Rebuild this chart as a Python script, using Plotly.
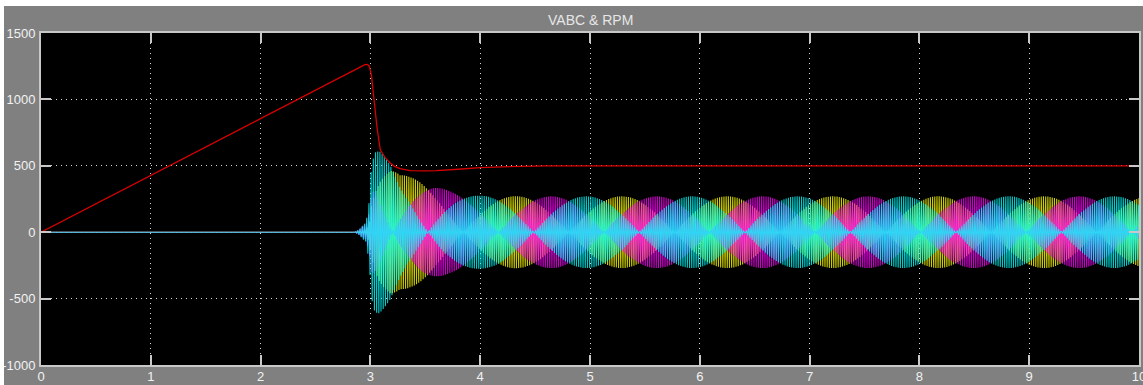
import numpy as np
import plotly.graph_objects as go

# ---- rotor speed (RPM) vs time ----
rpm_t = [0.0, 0.5, 1.0, 1.5, 2.0, 2.5, 2.8, 2.88, 2.92, 2.95, 2.97, 2.99,
         3.01, 3.03, 3.06, 3.09, 3.13, 3.18, 3.22, 3.27, 3.36, 3.5, 3.6,
         3.8, 4.0, 4.2, 4.4, 4.6, 6.0, 8.0, 10.0]
rpm_v = [0, 214, 429, 643, 858, 1072, 1200, 1234, 1252, 1262, 1264, 1252,
         1180, 1010, 790, 620, 565, 521, 496, 478, 463, 462, 463,
         474, 486, 492, 497, 500, 500, 500, 500]

# ---- three-phase stator voltage: amplitude envelope vs time ----
volt_env_t = [0.0, 2.86, 2.90, 2.93, 2.96, 2.99, 3.01, 3.04, 3.08, 3.18,
              3.27, 3.36, 3.45, 3.57, 3.72, 3.88, 4.0, 4.5, 10.0]
volt_env_amp = [0, 0, 25, 55, 75, 240, 500, 600, 615, 560,
                450, 415, 390, 355, 310, 284, 274, 270, 270]

phase_names = ["Va", "Vb", "Vc"]
phase_colors = ["#ffff00", "#ff00ff", "#00ffff"]
phase_shift_deg = [0, -120, 120]

FREQ_HZ = 50.52       # electrical frequency
SAMPLE_STEP = 0.01    # scope sample time (s)

# axis ticks
x_ticks = [0, 1, 2, 3, 4, 5, 6, 7, 8, 9, 10]
y_ticks = [-1000, -500, 0, 500, 1000, 1500]

LABEL_FONT = dict(family="Liberation Sans Narrow, Liberation Sans, Arial",
                  size=13, color="#f2f2f2")

fig = go.Figure()

base_t = np.arange(0.0, 10.0 + 1e-9, SAMPLE_STEP)
for k, (name, color, shift) in enumerate(zip(phase_names, phase_colors, phase_shift_deg)):
    # channels are read one after another within each scope step
    tk = base_t + k * SAMPLE_STEP / 3.0
    tk = tk[tk <= 10.0]
    amp = np.interp(tk, volt_env_t, volt_env_amp)
    vk = amp * np.sin(2 * np.pi * FREQ_HZ * tk + np.deg2rad(shift))
    fig.add_trace(go.Scatter(
        x=tk, y=vk, mode="lines", name=name, opacity=0.8,
        line=dict(color=color, width=1.1, simplify=False),
        hoverinfo="skip", showlegend=False,
    ))

fig.add_trace(go.Scatter(
    x=rpm_t, y=rpm_v, mode="lines", name="RPM",
    line=dict(color="#d80000", width=1.3),
    showlegend=False,
))

axis_common = dict(
    showline=True, linecolor="#c8c8c8", linewidth=2, mirror="ticks",
    ticks="inside", ticklen=10, tickwidth=1.5, tickcolor="#c8c8c8",
    showgrid=True, gridcolor="#d8d8d8", gridwidth=1, griddash="1px,4px",
    zeroline=False, tickfont=LABEL_FONT, automargin=False,
    ticklabeloverflow="allow",
)

fig.update_xaxes(range=[0, 10], tickvals=x_ticks, ticktext=[str(v) for v in x_ticks],
                 ticklabelstandoff=-2, **axis_common)
fig.update_yaxes(range=[-1000, 1500], tickvals=y_ticks, ticktext=[str(v) for v in y_ticks],
                 ticklabelstandoff=1, **axis_common)

fig.update_layout(
    width=1143, height=385,
    margin=dict(l=41, r=4, t=33, b=20, pad=0),
    paper_bgcolor="#808080",
    plot_bgcolor="#000000",
    showlegend=False,
    annotations=[dict(
        text="VABC & RPM", x=0.5, y=1 + 13.0 / 332, xref="paper", yref="paper",
        xanchor="center", yanchor="middle", showarrow=False,
        font=dict(family="Liberation Sans Narrow, Liberation Sans, Arial",
                  size=14, color="#e6e6e6"),
    )],
    shapes=[
        # white window edge along the top and the left side
        dict(type="rect", xref="paper", yref="paper", layer="above",
             x0=-0.05, x1=1.01, y0=1 + 27.0 / 332, y1=1.2,
             fillcolor="#ffffff", line=dict(width=0)),
        dict(type="rect", xref="paper", yref="paper", layer="above",
             x0=-0.05, x1=-37.0 / 1098, y0=-0.1, y1=1.2,
             fillcolor="#ffffff", line=dict(width=0)),
    ],
)

fig.write_html("out.html")
